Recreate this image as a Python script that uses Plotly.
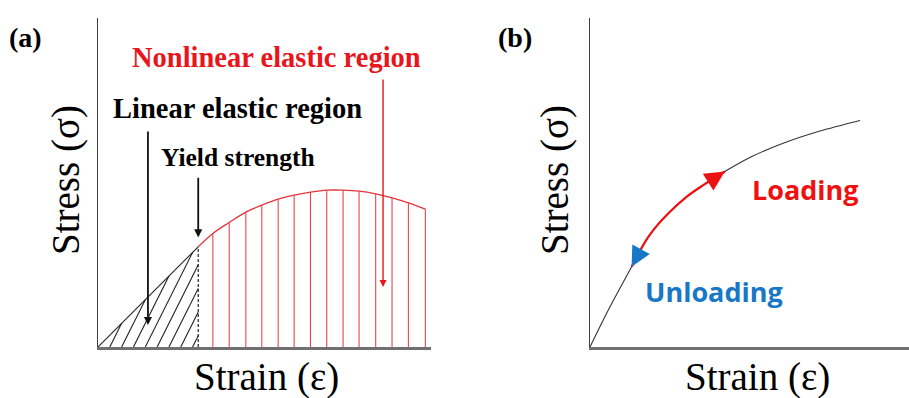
import plotly.graph_objects as go

W, H = 909, 398

# ---- Panel (a): linear + nonlinear elastic stress-strain curve ----
lin_strain = [0.0, 3.01]
lin_stress = [0.0, 3.01]
nl_strain = [3.01, 3.45, 3.94, 4.44, 4.92, 5.41, 5.89, 6.38, 6.87, 7.36, 7.84, 8.34, 8.83, 9.32, 9.83]
nl_stress = [3.01, 3.41, 3.74, 4.05, 4.26, 4.44, 4.56, 4.65, 4.71, 4.71, 4.68, 4.60, 4.48, 4.33, 4.14]

# ---- Panel (b): loading / unloading curve ----
b_strain = [0.0, 0.55, 1.25, 1.65, 1.90, 2.40, 2.90, 3.40, 4.05, 4.86, 5.86, 6.86, 8.11]
b_stress = [0.0, 1.11, 2.41, 3.15, 3.51, 4.06, 4.51, 4.86, 5.27, 5.72, 6.14, 6.47, 6.80]
loop_start, loop_end = 2, 8   # segment travelled on loading / unloading

# pixel layout helpers (figure has zero margins)
UNIT = 33.3                      # pixels per strain/stress unit
AX_A_LEFT, AX_B_LEFT = 98, 590
AX_BOTTOM, AX_TOP = 347, 18
x_a_max = 10.0
x_b_max = (W - AX_B_LEFT) / UNIT
y_max = (AX_BOTTOM - AX_TOP) / UNIT


def px(x):
    return x / W


def py(y):
    return 1 - y / H


SERIF = "Liberation Serif, Times New Roman, serif"
SANS = "Open Sans, Noto Sans, sans-serif"
RED_TXT = "#E8161C"
RED_LINE = "#E2363B"
RED_LOAD = "#EE1111"
BLUE = "#1877C6"

fig = go.Figure()

# hatching of the linear region (slope-2 lines clipped to the triangle)
hx, hy = [], []
x_y = lin_strain[-1]
step = 0.355
k = 1
while k * step < x_y:
    x0 = k * step
    if 2 * x0 <= x_y:
        x1, y1 = 2 * x0, 2 * x0
    else:
        x1, y1 = x_y, 2 * (x_y - x0)
    hx += [x0, x1, None]
    hy += [0, y1, None]
    k += 1
fig.add_trace(go.Scatter(x=hx, y=hy, mode="lines", line=dict(color="#222", width=1.1),
                         xaxis="x", yaxis="y", hoverinfo="skip"))

# linear part
fig.add_trace(go.Scatter(x=lin_strain, y=lin_stress, mode="lines",
                         line=dict(color="#222", width=1.1), xaxis="x", yaxis="y"))

# dashed line at the yield point
fig.add_trace(go.Scatter(x=[lin_strain[-1], lin_strain[-1]], y=[0, lin_stress[-1]], mode="lines",
                         line=dict(color="#222", width=1.2, dash="3px,2px"), xaxis="x", yaxis="y"))

# vertical red hatching under the nonlinear part
vx, vy = [], []
for s, t in zip(nl_strain[1:], nl_stress[1:]):
    vx += [s, s, None]
    vy += [0, t, None]
fig.add_trace(go.Scatter(x=vx, y=vy, mode="lines", line=dict(color=RED_LINE, width=1),
                         xaxis="x", yaxis="y", hoverinfo="skip"))

# nonlinear curve
fig.add_trace(go.Scatter(x=nl_strain, y=nl_stress, mode="lines", line_shape="spline",
                         line=dict(color=RED_LINE, width=1.3), xaxis="x", yaxis="y"))

# panel (b) full curve
fig.add_trace(go.Scatter(x=b_strain, y=b_stress, mode="lines", line_shape="spline",
                         line=dict(color="#333", width=1.1), xaxis="x2", yaxis="y2"))
# loading / unloading segment
fig.add_trace(go.Scatter(x=b_strain[loop_start:loop_end + 1], y=b_stress[loop_start:loop_end + 1],
                         mode="lines", line_shape="spline",
                         line=dict(color=RED_LOAD, width=2.2), xaxis="x2", yaxis="y2"))

axis_common = dict(showgrid=False, zeroline=False, showticklabels=False, ticks="",
                   fixedrange=True)

fig.update_layout(
    width=W, height=H, margin=dict(l=0, r=0, t=0, b=0),
    paper_bgcolor="white", plot_bgcolor="white", showlegend=False,
    xaxis=dict(domain=[px(AX_A_LEFT), px(AX_A_LEFT + x_a_max * UNIT)], range=[0, x_a_max],
               showline=True, linecolor="#707070", linewidth=2.5, anchor="y", **axis_common),
    yaxis=dict(domain=[py(AX_BOTTOM), py(AX_TOP)], range=[0, y_max],
               showline=True, linecolor="#404040", linewidth=1.4, anchor="x", **axis_common),
    xaxis2=dict(domain=[px(AX_B_LEFT), 1.0], range=[0, x_b_max],
                showline=True, linecolor="#707070", linewidth=2.5, anchor="y2", **axis_common),
    yaxis2=dict(domain=[py(AX_BOTTOM), py(AX_TOP)], range=[0, y_max],
                showline=True, linecolor="#404040", linewidth=1.4, anchor="x2", **axis_common),
)


def label(text, x, y, size, family=SERIF, color="black", xanchor="left", angle=0):
    fig.add_annotation(text=text, x=px(x), y=py(y), xref="paper", yref="paper",
                       xanchor=xanchor, yanchor="middle", showarrow=False, textangle=angle,
                       font=dict(family=family, size=size, color=color))


label("<b>(a)</b>", 7, 38, 28)
label("<b>(b)</b>", 496, 38, 28)
label("<b>Nonlinear elastic region</b>", 130, 58, 28.5, color=RED_TXT)
label("<b>Linear elastic region</b>", 111, 108, 28.5)
label("<b>Yield strength</b>", 159, 157, 25.5)
label("Stress (σ)", 66, 180, 39, xanchor="center", angle=-90)
label("Strain (ε)", 266, 377, 39, xanchor="center")
label("Stress (σ)", 555, 180, 39, xanchor="center", angle=-90)
label("Strain (ε)", 757, 377, 39, xanchor="center")
label("<b>Loading</b>", 750, 190, 27, family=SANS, color=RED_LOAD)
label("<b>Unloading</b>", 643, 291, 27, family=SANS, color=BLUE)


def arrow(x, y, ax, ay, color, width, size, xr="x", yr="y"):
    fig.add_annotation(x=x, y=y, ax=ax, ay=ay, xref=xr, yref=yr, axref=xr, ayref=yr,
                       text="", showarrow=True, arrowhead=2, arrowsize=size,
                       arrowwidth=width, arrowcolor=color, standoff=0)


# pointers in panel (a)
arrow(1.5, 0.66, 1.5, 6.52, "#111", 1.8, 0.9)
arrow(lin_strain[-1], lin_stress[-1] + 0.28, lin_strain[-1], 5.13, "#111", 1.8, 0.9)
arrow(8.56, 1.8, 8.56, 8.08, RED_TXT, 1.4, 1.0)

# arrowheads at both ends of the loading segment in panel (b)
e0 = (b_strain[loop_end], b_stress[loop_end])
e1 = (b_strain[loop_end - 1], b_stress[loop_end - 1])
s0 = (b_strain[loop_start], b_stress[loop_start])
s1 = (b_strain[loop_start + 1], b_stress[loop_start + 1])
arrow(e0[0], e0[1], e0[0] + 0.6 * (e1[0] - e0[0]), e0[1] + 0.6 * (e1[1] - e0[1]),
      RED_LOAD, 2.2, 1.8, "x2", "y2")
arrow(s0[0], s0[1], s0[0] + 0.75 * (s1[0] - s0[0]), s0[1] + 0.75 * (s1[1] - s0[1]),
      BLUE, 2.2, 1.8, "x2", "y2")

fig.write_html("out.html")
